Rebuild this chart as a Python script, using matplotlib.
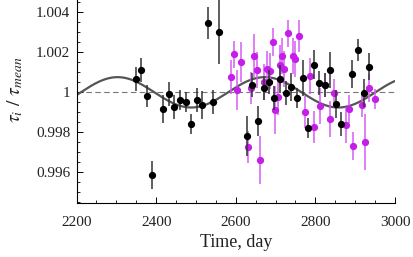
import numpy as np
import matplotlib
matplotlib.use("Agg")
import matplotlib.pyplot as plt
from matplotlib.ticker import MultipleLocator, FuncFormatter

plt.rcParams['font.family'] = ['Liberation Serif', 'DejaVu Serif']
plt.rcParams['mathtext.fontset'] = 'stix'

# black series (time, ratio, error)
black_t = [2349, 2362, 2376, 2390, 2418, 2432, 2446, 2460, 2474, 2488, 2502, 2516,
           2530, 2544, 2559, 2628, 2642, 2656, 2670, 2684, 2697, 2711, 2725, 2740,
           2754, 2768, 2782, 2796, 2810, 2823, 2838, 2852, 2865, 2893, 2907, 2921, 2935]
black_v = [1.00067, 1.00112, 0.99982, 0.99585, 0.99918, 0.99992, 0.99925, 0.99962,
           0.99953, 0.99840, 0.99963, 0.99935, 1.00348, 0.99950, 1.00303, 0.99782,
           1.00037, 0.99857, 1.00020, 1.00052, 0.99973, 1.00066, 0.99999, 1.00026,
           0.99970, 1.00072, 0.99823, 1.00139, 1.00049, 1.00037, 1.00111, 0.99942,
           0.99842, 1.00093, 1.00210, 0.99998, 1.00128]
black_e = [0.0006, 0.0006, 0.00055, 0.0007, 0.0007, 0.0006, 0.0006, 0.0005,
           0.0005, 0.0005, 0.0006, 0.0007, 0.0008, 0.0006, 0.0016, 0.0010,
           0.0006, 0.00075, 0.0006, 0.0006, 0.0006, 0.0007, 0.0006, 0.0007,
           0.0005, 0.0009, 0.0005, 0.00073, 0.0006, 0.0006, 0.0009, 0.0007,
           0.0006, 0.0007, 0.00055, 0.0007, 0.00067]

# magenta series
mag_t = [2589, 2596, 2603, 2614, 2631, 2639, 2646, 2653, 2660, 2670, 2679, 2686,
         2693, 2699, 2705, 2712, 2715, 2722, 2731, 2743, 2749, 2760, 2775, 2787,
         2797, 2812, 2823, 2838, 2848, 2876, 2884, 2895, 2916, 2925, 2936, 2950]
mag_v = [1.00078, 1.00190, 1.00012, 1.00150, 0.99725, 1.00020, 1.00183, 1.00112,
         0.99662, 1.00053, 1.00115, 1.00108, 1.00250, 0.99912, 0.99978, 1.00137,
         1.00183, 1.00115, 1.00295, 1.00183, 1.00165, 1.00280, 0.99903, 1.00082,
         0.99828, 0.99932, 1.00037, 0.99865, 0.99995, 0.99837, 0.99917, 0.99732,
         0.99937, 0.99750, 1.00023, 0.99967]
mag_e = [0.00085, 0.00067, 0.0010, 0.0010, 0.0008, 0.0008, 0.0011, 0.0009,
         0.0012, 0.0009, 0.0009, 0.0009, 0.0007, 0.0012, 0.0009, 0.0010,
         0.0009, 0.0009, 0.00067, 0.0009, 0.0009, 0.0008, 0.0008, 0.0009,
         0.0008, 0.0009, 0.0006, 0.0009, 0.0007, 0.0009, 0.0007, 0.0007,
         0.0006, 0.0014, 0.0007, 0.0005]

# fitted sinusoid parameters
fit_amp = 0.00076
fit_period = 370.0
fit_tmax = 2303.0

fig = plt.figure(figsize=(4.14, 2.57), dpi=100)
ax = fig.add_axes([0.185, 0.21, 0.769, 0.79])

ax.axhline(1.0, color="#777777", lw=0.8, ls=(0, (5, 3)), zorder=1)

tt = np.linspace(2200, 3000, 400)
ax.plot(tt, 1 + fit_amp * np.cos(2 * np.pi * (tt - fit_tmax) / fit_period),
        color="#555555", lw=1.6, zorder=2)

ax.errorbar(mag_t, mag_v, yerr=mag_e, fmt="o", ms=4.2, color="#c41ee8",
            ecolor="#d45cf2", elinewidth=1.1, capsize=0, zorder=3)
ax.errorbar(black_t, black_v, yerr=black_e, fmt="o", ms=4.2, color="black",
            ecolor="#333333", elinewidth=1.1, capsize=0, zorder=4)

ax.set_xlim(2200, 3000)
ax.set_ylim(0.99446, 1.00462)
ax.spines['top'].set_visible(False)
ax.spines['right'].set_visible(False)
ax.xaxis.set_major_locator(MultipleLocator(200))
ax.xaxis.set_minor_locator(MultipleLocator(50))
ax.yaxis.set_major_locator(MultipleLocator(0.002))
ax.yaxis.set_minor_locator(MultipleLocator(0.0005))
ax.yaxis.set_major_formatter(FuncFormatter(lambda v, p: "1" if abs(v - 1) < 1e-9 else "%.3f" % v))
ax.tick_params(which="major", direction="in", length=4, width=0.7, labelsize=11,
               labelcolor="#222222")
ax.tick_params(which="minor", direction="in", length=2, width=0.6)
ax.tick_params(axis="x", pad=9)
ax.tick_params(axis="y", pad=4.5)

ax.set_xlabel("Time, day", fontsize=13, labelpad=4, color="#222222")
ax.set_ylabel(r"$\tau_i\ /\ \tau_{mean}$", fontsize=14, color="#222222")
ax.yaxis.set_label_coords(-0.162, 0.557)

fig.savefig("out.png", dpi=100)
